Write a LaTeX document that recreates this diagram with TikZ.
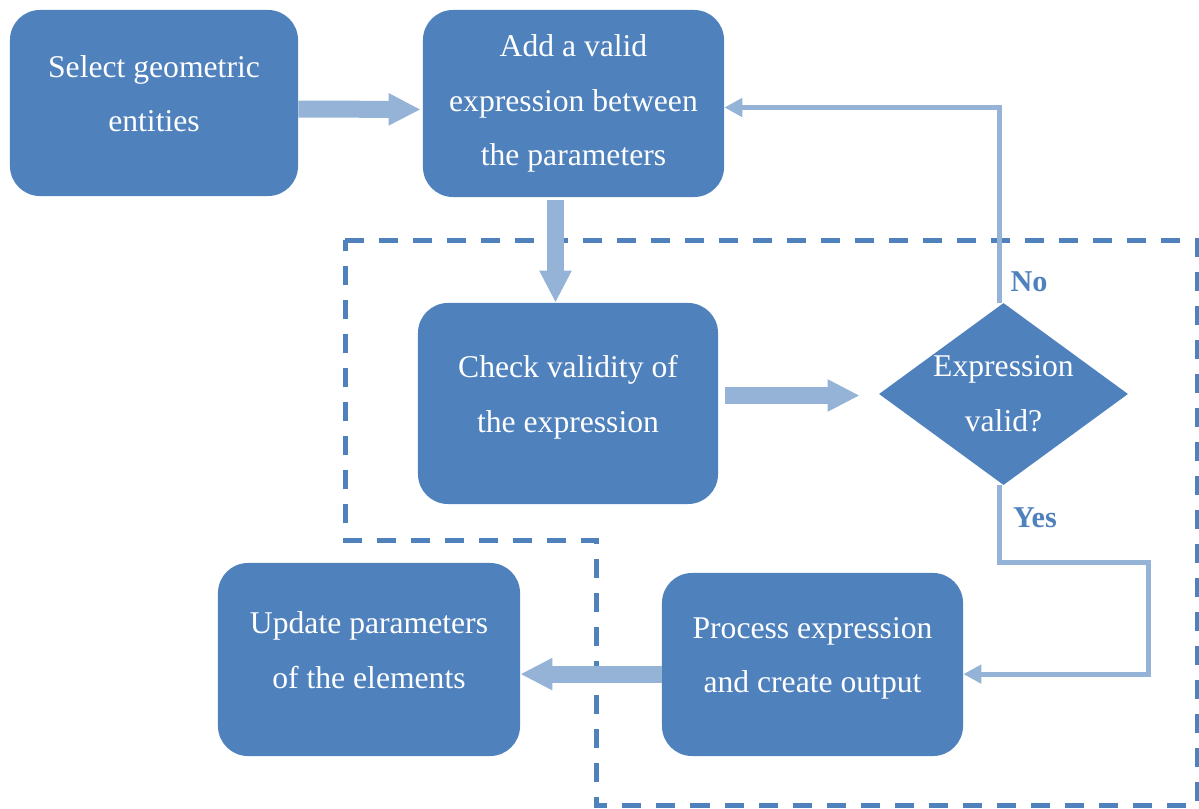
\documentclass[tikz,border=0pt]{standalone}
\usepackage{fontspec}
\setmainfont{Liberation Serif}
\usetikzlibrary{arrows.meta, positioning, shapes.geometric}
\definecolor{BoxBlue}{HTML}{4F81BD}
\definecolor{ArrowBlue}{HTML}{95B3D7}

\begin{document}
\begin{tikzpicture}[
    x=0.025cm, y=-0.025cm,
    box/.style 2 args={
        rectangle, rounded corners=0.75cm, fill=BoxBlue, text=white,
        align=center, font=\fontsize{22.5}{39}\selectfont,
        minimum width=#1, minimum height=#2, inner sep=0pt
    },
    lift/.style={text depth=13.5pt},
    decision/.style={
        diamond, fill=BoxBlue, minimum width=6.225cm,
        minimum height=4.55cm, inner sep=0pt
    },
    boxtext/.style={text=white, align=center,
                    font=\fontsize{22.5}{39}\selectfont},
    lbl/.style={text=BoxBlue, font=\fontsize{21.5}{26}\selectfont\bfseries},
    bigarr/.style={-{Triangle[length=0.8cm, width=0.75cm]},
                   line width=0.425cm, ArrowBlue},
    thinarr/.style={-{Triangle[length=0.45cm, width=0.45cm]},
                    line width=0.125cm, ArrowBlue},
    region/.style={dash pattern=on 0.475cm off 0.375cm,
                   line width=0.125cm, BoxBlue}
]
\useasboundingbox (0,0) rectangle (1199,809);

% Dashed region
\draw[region] (345,240) -- (1197,240) -- (1197,805) -- (596,805)
    -- (596,540) -- (345,540) -- cycle;

% Boxes
\node[box={7.2cm}{4.65cm}, lift] (select) at (154,103)
    {Select geometric\\entities};
\node[box={7.525cm}{4.675cm}] (add) at (573.5,103.5)
    {Add a valid\\expression between\\the parameters};
\node[box={7.5cm}{5.025cm}, lift] (check) at (568,403.5)
    {Check validity of\\the expression};
\node[decision, label={[boxtext]center:Expression\\valid?}] (valid)
    at (1003.5,394) {};
\node[box={7.525cm}{4.575cm}, lift] (process) at (812.5,664.5)
    {Process expression\\and create output};
\node[box={7.55cm}{4.825cm}, lift] (update) at (369,659.5)
    {Update parameters\\of the elements};

% Labels
\node[lbl] (no) at (1029,282) {No};
\node[lbl] (yes) at (1035,518) {Yes};

% Block arrows
\draw[bigarr, shorten >=0.05cm] ([yshift=-0.15cm]select.east)
    -- ([yshift=-0.15cm]add.west);
\draw[bigarr, shorten <=0.075cm, shorten >=0.125cm]
    ([xshift=-0.45cm]add.south) -- ([xshift=-0.45cm,yshift=-0.125cm]add.south |- check.north);
\draw[bigarr, shorten <=0.175cm, shorten >=0.475cm]
    ([yshift=0.2cm]check.east) -- ([yshift=0.2cm]check.east -| valid.west);
\draw[bigarr] ([yshift=-0.24cm]process.west)
    -- ([yshift=-0.24cm]process.west -| update.east);

% Thin connectors
\coordinate (yesturn) at (1148,562);
\draw[thinarr] ([xshift=-0.1cm]valid.north) |- ([yshift=-0.1cm]add.east);
\draw[thinarr] ([xshift=-0.1cm]valid.south)
    |- (yesturn) |- ([yshift=-0.24cm]process.east);

\end{tikzpicture}
\end{document}
